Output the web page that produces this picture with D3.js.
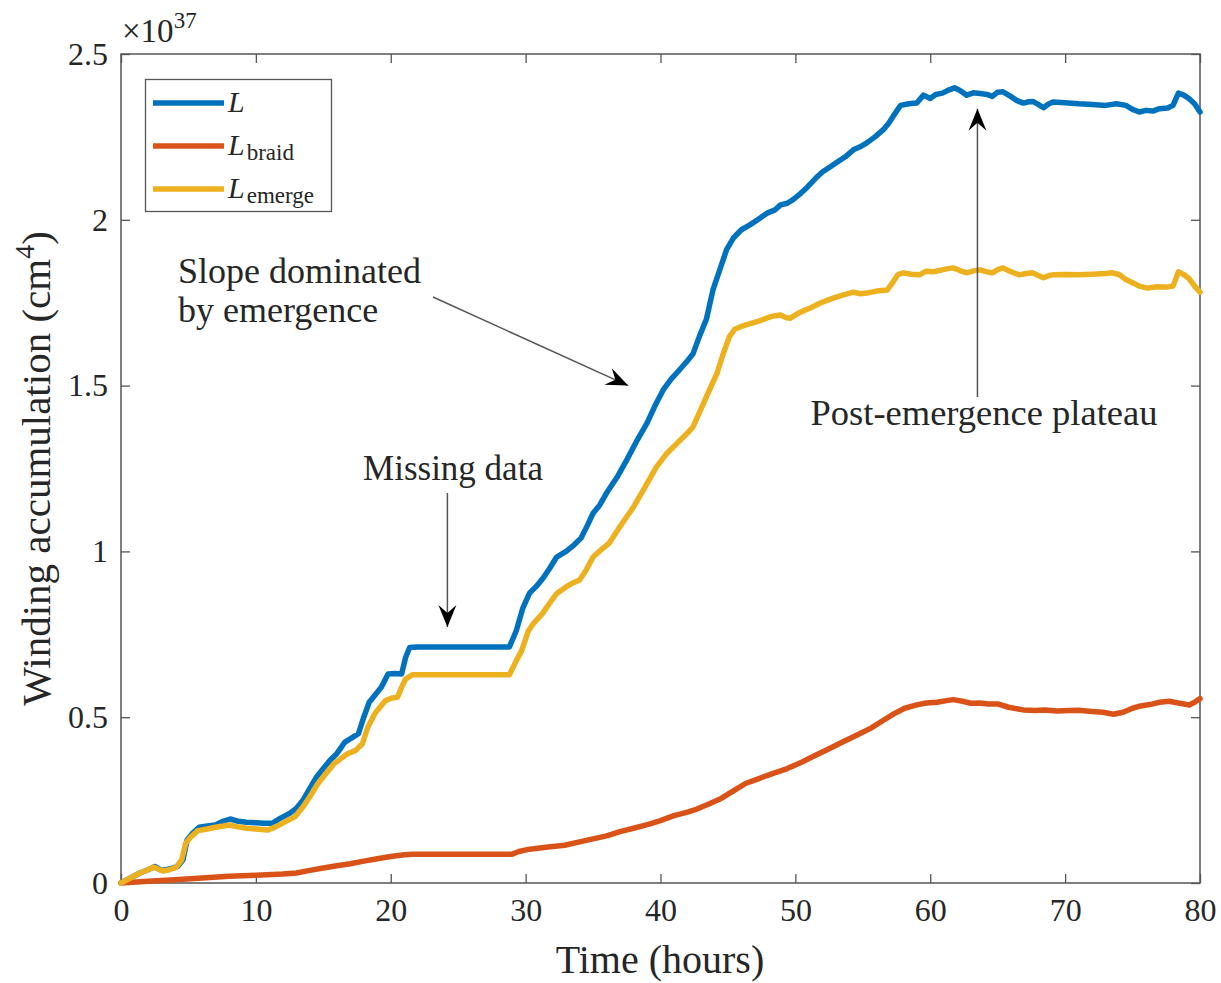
<!DOCTYPE html>
<html>
<head>
<meta charset="utf-8">
<script src="https://cdn.jsdelivr.net/npm/d3@7"></script>
<style>
  html, body { margin: 0; padding: 0; background: #fff; }
  svg { display: block; }
  text { font-family: "Liberation Serif", "Times New Roman", serif; fill: #262626; }
</style>
</head>
<body>
<svg id="chart" width="1221" height="983"></svg>
<script>
// ---- Data (hours, winding accumulation in units of 1e37 cm^4) ----
const xTicks = [0, 10, 20, 30, 40, 50, 60, 70, 80];
const yTicks = [0, 0.5, 1, 1.5, 2, 2.5];

const seriesL = [[0,0],[0.7,0.015],[1.4,0.03],[2.0,0.04],[2.5,0.05],[3.0,0.038],[3.6,0.042],[4.2,0.05],[4.6,0.07],[4.9,0.13],[5.3,0.15],[5.8,0.168],[6.4,0.172],[7.0,0.175],[7.5,0.185],[8.1,0.193],[8.7,0.186],[9.3,0.183],[10.0,0.182],[10.6,0.18],[11.2,0.18],[11.8,0.195],[12.5,0.21],[13.0,0.225],[13.5,0.25],[14.0,0.285],[14.5,0.32],[15.0,0.345],[15.5,0.37],[16.0,0.39],[16.6,0.425],[17.2,0.44],[17.6,0.45],[18.0,0.5],[18.4,0.545],[18.9,0.57],[19.3,0.59],[19.8,0.63],[20.3,0.632],[20.8,0.63],[21.1,0.68],[21.4,0.71],[22.0,0.712],[28.8,0.712],[29.3,0.76],[29.8,0.83],[30.3,0.875],[30.8,0.895],[31.3,0.92],[31.8,0.95],[32.3,0.983],[33.0,1.0],[33.6,1.02],[34.1,1.04],[34.6,1.08],[35.0,1.115],[35.5,1.14],[36.0,1.176],[36.8,1.225],[37.5,1.276],[38.2,1.33],[39.0,1.387],[39.6,1.44],[40.2,1.487],[40.8,1.52],[41.4,1.547],[42.0,1.575],[42.4,1.595],[42.9,1.65],[43.4,1.7],[43.9,1.79],[44.4,1.85],[44.9,1.91],[45.4,1.945],[46.0,1.97],[46.6,1.984],[47.2,2.0],[47.9,2.02],[48.5,2.03],[48.9,2.045],[49.4,2.05],[49.8,2.06],[50.4,2.08],[50.9,2.099],[51.5,2.125],[52.0,2.144],[52.6,2.16],[53.1,2.174],[53.7,2.19],[54.3,2.211],[54.8,2.22],[55.3,2.232],[55.9,2.25],[56.5,2.271],[56.9,2.29],[57.3,2.315],[57.8,2.345],[58.4,2.35],[59.0,2.352],[59.5,2.376],[60.0,2.366],[60.4,2.378],[60.9,2.382],[61.4,2.392],[61.8,2.398],[62.2,2.39],[62.7,2.376],[63.2,2.383],[63.7,2.381],[64.2,2.378],[64.6,2.372],[65.0,2.385],[65.4,2.386],[65.9,2.374],[66.4,2.36],[66.9,2.352],[67.3,2.356],[67.6,2.357],[68.0,2.348],[68.4,2.338],[68.8,2.35],[69.1,2.355],[70.0,2.353],[71.0,2.35],[72.0,2.348],[73.0,2.345],[73.8,2.35],[74.5,2.345],[75.0,2.333],[75.5,2.325],[76.0,2.33],[76.5,2.328],[77.0,2.335],[77.6,2.337],[78.0,2.345],[78.4,2.382],[78.8,2.376],[79.2,2.365],[79.6,2.35],[80.0,2.325]];

const seriesBraid = [[0,0],[2,0.005],[4,0.01],[6,0.015],[8,0.02],[10,0.023],[12,0.027],[13,0.03],[14,0.038],[15,0.045],[16,0.052],[17,0.058],[18,0.066],[19,0.073],[20,0.08],[21,0.085],[21.6,0.087],[29,0.087],[29.5,0.095],[30.3,0.102],[31.5,0.108],[32.9,0.114],[34.0,0.124],[35.0,0.133],[36.0,0.142],[37.0,0.155],[38.0,0.165],[39.1,0.177],[40.0,0.188],[41.0,0.203],[42.0,0.214],[42.7,0.223],[43.5,0.237],[44.5,0.255],[45.5,0.28],[46.3,0.3],[47.3,0.315],[48.3,0.33],[49.4,0.345],[50.5,0.365],[51.5,0.385],[52.5,0.405],[53.5,0.425],[54.5,0.445],[55.6,0.467],[56.5,0.49],[57.3,0.51],[58.1,0.527],[59.0,0.537],[59.7,0.543],[60.5,0.545],[61.2,0.55],[61.7,0.553],[62.4,0.548],[63.0,0.542],[63.7,0.543],[64.3,0.54],[65.0,0.54],[65.8,0.53],[66.9,0.522],[67.8,0.52],[68.5,0.522],[69.4,0.519],[70.3,0.52],[71.0,0.521],[72.0,0.517],[72.8,0.515],[73.6,0.509],[74.3,0.515],[75.0,0.527],[75.6,0.534],[76.5,0.54],[77.0,0.545],[77.7,0.548],[78.5,0.542],[79.2,0.537],[79.6,0.545],[80,0.556]];

const seriesEmerge = [[0,0],[0.7,0.015],[1.4,0.03],[2.0,0.04],[2.4,0.048],[3.1,0.036],[3.6,0.04],[4.1,0.048],[4.5,0.07],[4.8,0.12],[5.2,0.14],[5.7,0.158],[6.4,0.163],[7.0,0.168],[7.6,0.172],[8.0,0.175],[8.6,0.17],[9.3,0.165],[10.0,0.163],[10.9,0.16],[11.5,0.17],[12.2,0.185],[12.9,0.2],[13.5,0.23],[14.0,0.26],[14.6,0.3],[15.2,0.33],[15.8,0.36],[16.3,0.375],[16.8,0.39],[17.4,0.4],[17.9,0.42],[18.3,0.47],[18.8,0.51],[19.2,0.53],[19.6,0.55],[20.1,0.558],[20.5,0.56],[20.8,0.59],[21.1,0.615],[21.6,0.628],[28.8,0.628],[29.3,0.67],[29.7,0.7],[30.2,0.76],[30.6,0.784],[31.2,0.81],[31.8,0.845],[32.3,0.873],[33.0,0.893],[33.5,0.905],[34.0,0.914],[34.5,0.945],[35.0,0.983],[35.6,1.005],[36.2,1.025],[37.0,1.075],[38.0,1.134],[38.8,1.19],[39.7,1.255],[40.5,1.297],[41.2,1.325],[42.0,1.357],[42.4,1.375],[42.9,1.42],[43.4,1.466],[44.2,1.538],[44.6,1.59],[45.1,1.647],[45.5,1.67],[45.9,1.677],[46.4,1.684],[46.9,1.69],[47.4,1.696],[47.9,1.704],[48.4,1.71],[48.9,1.713],[49.3,1.705],[49.6,1.703],[50.3,1.72],[51.1,1.734],[51.9,1.75],[52.8,1.764],[53.5,1.773],[54.3,1.782],[54.8,1.777],[55.3,1.779],[56.0,1.785],[56.8,1.788],[57.2,1.81],[57.6,1.835],[58.0,1.84],[58.6,1.836],[59.2,1.834],[59.7,1.845],[60.2,1.843],[60.8,1.848],[61.2,1.852],[61.7,1.855],[62.2,1.847],[62.7,1.84],[63.2,1.846],[63.7,1.849],[64.2,1.843],[64.6,1.84],[65.0,1.85],[65.4,1.855],[65.9,1.845],[66.6,1.834],[67.1,1.838],[67.6,1.84],[68.0,1.832],[68.4,1.825],[68.8,1.832],[69.1,1.834],[70.0,1.835],[71.0,1.834],[72.0,1.836],[73.0,1.838],[73.5,1.84],[74.0,1.835],[74.5,1.82],[75.0,1.81],[75.5,1.8],[76.1,1.794],[76.8,1.798],[77.5,1.797],[78.0,1.8],[78.4,1.843],[78.8,1.835],[79.2,1.822],[79.6,1.8],[80.0,1.782]];

const seriesNames = ["L", "braid", "emerge"];
const seriesColors = ["#0072BD", "#D95319", "#EDB120"];

const annotationTexts = [["Slope dominated", "by emergence"], ["Missing data"], ["Post-emergence plateau"]];

// ---- Layout ----
const svg = d3.select("#chart");
const margin = { left: 121, right: 21, top: 54, bottom: 100 };
const W = 1221, H = 983;
const x = d3.scaleLinear().domain([0, 80]).range([margin.left, W - margin.right]);
const y = d3.scaleLinear().domain([0, 2.5]).range([H - margin.bottom, margin.top]);

const axisColor = "#555";
const tickFont = 32;

svg.append("rect")
  .attr("x", x(0)).attr("y", y(2.5))
  .attr("width", x(80) - x(0)).attr("height", y(0) - y(2.5))
  .attr("fill", "none").attr("stroke", axisColor).attr("stroke-width", 1.5);

function styleAxis(g, labels) {
  g.select(".domain").remove();
  g.selectAll(".tick line").attr("stroke", axisColor).attr("stroke-width", 1.3);
  g.selectAll(".tick text").attr("font-size", tickFont).attr("fill", "#262626")
    .attr("font-family", "Liberation Serif, serif");
  if (!labels) g.selectAll(".tick text").remove();
}

const fmt = d => String(d);

svg.append("g").attr("transform", `translate(0,${y(0)})`)
  .call(d3.axisBottom(x).tickValues(xTicks).tickFormat(fmt).tickSizeInner(-9).tickSizeOuter(0).tickPadding(15))
  .call(g => styleAxis(g, true));
svg.append("g").attr("transform", `translate(0,${y(2.5)})`)
  .call(d3.axisTop(x).tickValues(xTicks).tickSizeInner(-9).tickSizeOuter(0))
  .call(g => styleAxis(g, false));
svg.append("g").attr("transform", `translate(${x(0)},0)`)
  .call(d3.axisLeft(y).tickValues(yTicks).tickFormat(fmt).tickSizeInner(-9).tickSizeOuter(0).tickPadding(13))
  .call(g => styleAxis(g, true));
svg.append("g").attr("transform", `translate(${x(80)},0)`)
  .call(d3.axisRight(y).tickValues(yTicks).tickSizeInner(-9).tickSizeOuter(0))
  .call(g => styleAxis(g, false));

// exponent label
const expo = svg.append("text").attr("x", x(0) + 1).attr("y", 42).attr("font-size", 33);
expo.append("tspan").text("×10");
expo.append("tspan").attr("font-size", 23).attr("dy", -14).text("37");

// axis labels
svg.append("text").attr("x", 660).attr("y", 973)
  .attr("text-anchor", "middle").attr("font-size", 40).text("Time (hours)");
const yl = svg.append("text")
  .attr("transform", `translate(50,${(y(0) + y(2.5)) / 2}) rotate(-90)`)
  .attr("text-anchor", "middle").attr("font-size", 41);
yl.append("tspan").text("Winding accumulation (cm");
yl.append("tspan").attr("font-size", 28).attr("dy", -16).text("4");
yl.append("tspan").attr("dy", 16).text(")");

// lines
const line = d3.line().x(d => x(d[0])).y(d => y(d[1]));
const allSeries = [seriesL, seriesBraid, seriesEmerge];
svg.append("g").selectAll("path").data(allSeries).join("path")
  .attr("d", line)
  .attr("fill", "none")
  .attr("stroke", (d, i) => seriesColors[i])
  .attr("stroke-width", 5.5)
  .attr("stroke-linejoin", "round")
  .attr("stroke-linecap", "round");

// legend
const lg = svg.append("g");
lg.append("rect").attr("x", 145.5).attr("y", 79.5).attr("width", 186).attr("height", 132)
  .attr("fill", "#fff").attr("stroke", axisColor).attr("stroke-width", 1.3);
seriesNames.forEach((name, i) => {
  const cy = 103 + i * 43;
  lg.append("line").attr("x1", 153).attr("x2", 224).attr("y1", cy).attr("y2", cy)
    .attr("stroke", seriesColors[i]).attr("stroke-width", 5.5);
  const t = lg.append("text").attr("x", 228).attr("y", cy + 9).attr("font-size", 30);
  t.append("tspan").attr("font-style", "italic").text("L");
  if (i > 0) {
    t.append("tspan").attr("font-size", 23).attr("dx", 2).attr("dy", 5).text(name);
  }
});

// annotation arrows
function arrow(x1, y1, x2, y2) {
  svg.append("line").attr("x1", x1).attr("y1", y1).attr("x2", x2).attr("y2", y2)
    .attr("stroke", "#555").attr("stroke-width", 1.5);
  const ang = Math.atan2(y2 - y1, x2 - x1);
  const L = 22, Wd = 9, notch = 14;
  const ca = Math.cos(ang), sa = Math.sin(ang);
  const p1 = [x2, y2];
  const p2 = [x2 - L * ca - Wd * sa, y2 - L * sa + Wd * ca];
  const p3 = [x2 - notch * ca, y2 - notch * sa];
  const p4 = [x2 - L * ca + Wd * sa, y2 - L * sa - Wd * ca];
  svg.append("path").attr("d", `M${p1}L${p2}L${p3}L${p4}Z`).attr("fill", "#000");
}

const a1 = svg.append("text").attr("x", 178).attr("y", 283).attr("font-size", 36);
a1.append("tspan").attr("x", 178).text(annotationTexts[0][0]);
a1.append("tspan").attr("x", 178).attr("dy", 39).text(annotationTexts[0][1]);
arrow(433, 297, x(37.6), y(1.5));

svg.append("text").attr("x", 453).attr("y", 480).attr("text-anchor", "middle")
  .attr("font-size", 35).text(annotationTexts[1][0]);
arrow(x(24.2), 493, x(24.2), y(0.772));

svg.append("text").attr("x", 984).attr("y", 425).attr("text-anchor", "middle")
  .attr("font-size", 36.5).text(annotationTexts[2][0]);
arrow(x(63.5), 397, x(63.5), y(2.335));
</script>
</body>
</html>
